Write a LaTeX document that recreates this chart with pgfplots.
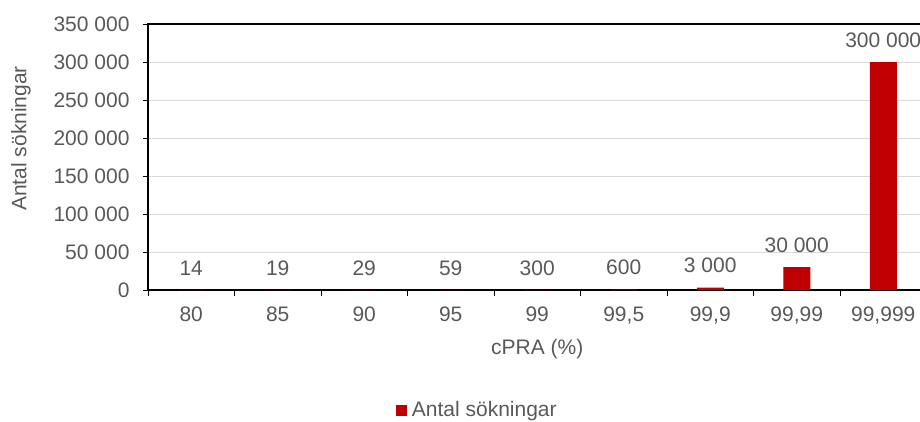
\documentclass[border=0pt]{standalone}
\usepackage{fontspec}
\setmainfont{Liberation Sans}
\usepackage{pgfplots}
\pgfplotsset{compat=1.18}
\definecolor{barred}{HTML}{C00000}
\definecolor{txtgrey}{HTML}{595959}
\definecolor{gridgrey}{HTML}{D9D9D9}
\begin{document}
\begin{tikzpicture}[font=\fontsize{21}{25}\selectfont]
\begin{axis}[
  at={(148pt,131pt)}, anchor=south west,
  scale only axis, width=778.5pt, height=266pt,
  xmin=-0.5, xmax=8.5, ymin=0, ymax=350000,
  ybar, bar width=27pt,
  xtick={0,...,8},
  xticklabels={80,85,90,95,99,{99,5},{99,9},{99,99},{99,999}},
  major x tick style={draw=none},
  minor xtick={-0.5,0.5,...,8.5},
  xtick pos=left, ytick pos=left,
  tick align=outside,
  major tick length=5pt, minor tick length=6pt,
  ytick={0,50000,100000,150000,200000,250000,300000,350000},
  yticklabels={0,50 000,100 000,150 000,200 000,250 000,300 000,350 000},
  scaled y ticks=false,
  ymajorgrids, grid style={gridgrey, line width=1pt},
  axis line style={black, line width=1.2pt},
  every tick/.style={black, line width=1pt},
  ticklabel style={text=txtgrey},
  yticklabel style={xshift=-10pt},
  xticklabel style={yshift=-8pt},
  xlabel={cPRA (\%)}, ylabel={Antal sökningar},
  label style={text=txtgrey},
  xlabel style={at={(rel axis cs:0.5,-0.2218)}, anchor=center},
  ylabel style={at={(rel axis cs:-0.1631,0.57)}, anchor=center},
  point meta=explicit symbolic,
  nodes near coords={\pgfplotspointmeta},
  every node near coord/.append style={text=txtgrey, anchor=center, yshift=22pt},
  legend style={at={(rel axis cs:0.423,-0.451)}, anchor=center, draw=none, fill=none, text=txtgrey},
  legend image code/.code={\fill[#1] (0pt,-6.5pt) rectangle (11pt,4.5pt);},
]
\addplot[fill=barred, draw=none] coordinates {
(0,14) [14] (1,19) [19] (2,29) [29] (3,59) [59] (4,300) [300] (5,600) [600]
(6,3000) [3 000] (7,30000) [30 000] (8,300000) [300 000]};
\addlegendentry{\hspace{3pt}Antal sökningar}
\end{axis}
\pgfresetboundingbox
\useasboundingbox (0,0) rectangle (920pt,421pt);
\end{tikzpicture}
\end{document}
